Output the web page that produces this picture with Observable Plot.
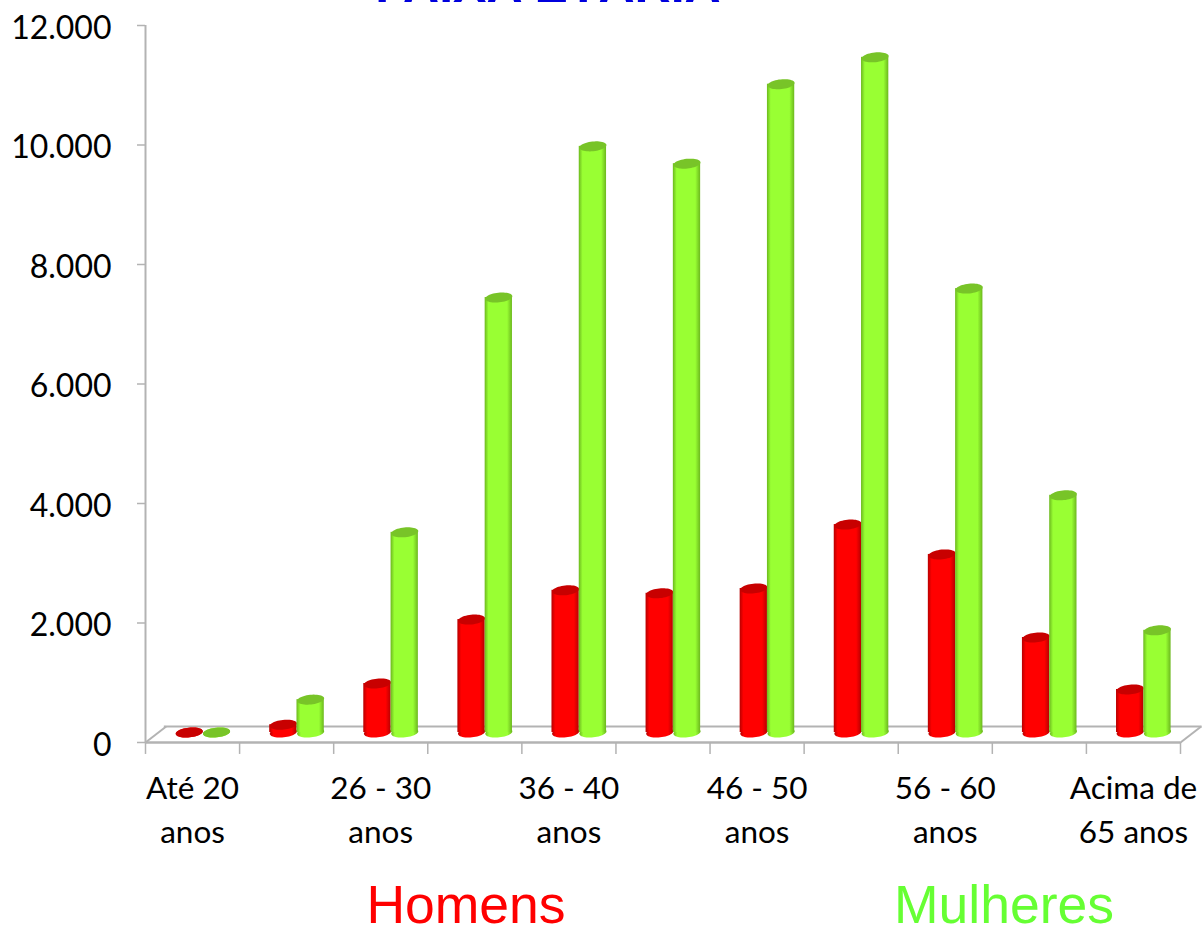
<!DOCTYPE html>
<html><head><meta charset="utf-8">
<script src="https://cdn.jsdelivr.net/npm/d3@7"></script>
<script src="https://cdn.jsdelivr.net/npm/@observablehq/plot@0.6"></script>
<style>
html,body{margin:0;padding:0;background:#fff;overflow:hidden}
#wrap{position:relative;width:1202px;height:926px;overflow:hidden}
#wrap svg{display:block;position:absolute;left:0;top:0;overflow:hidden}
.legend{position:absolute;top:884px;font:53.5px "Liberation Sans",Arial,sans-serif;transform:translateX(-50%);white-space:nowrap;line-height:42px}
.title{position:absolute;left:548px;top:-35px;transform:translateX(-50%);font:bold 50px "Liberation Sans",Arial,sans-serif;color:#0000dd;white-space:nowrap;line-height:40px}
</style></head>
<body><div id="wrap">
<div class="title">FAIXA ETÁRIA</div>
<div class="legend" style="left:466px;color:#ff0000">Homens</div>
<div class="legend" style="left:1004px;color:#66ff33">Mulheres</div>
</div>
<script>
const categories = ["Até 20\nanos","21 - 25\nanos","26 - 30\nanos","31 - 35\nanos","36 - 40\nanos","41 - 45\nanos","46 - 50\nanos","51 - 55\nanos","56 - 60\nanos","61 - 65\nanos","Acima de\n65 anos"];
const homens = [0,130,820,1890,2380,2330,2410,3480,2980,1590,720];
const mulheres = [0,550,3350,7280,9810,9520,10850,11300,7430,3970,1710];
const yTicks = [0,2000,4000,6000,8000,10000,12000];
const fmt = d => d3.format(",")(d).replace(/,/g,".");

const rows = categories.map((c,i)=>({i,c,h:homens[i],m:mulheres[i]}));
const ellipse = {draw(ctx,size){
  const rx=Math.sqrt(size/Math.PI), ry=rx/2.8, t=-6*Math.PI/180, n=48;
  for(let k=0;k<n;k++){
    const a=2*Math.PI*k/n, x=rx*Math.cos(a), y=ry*Math.sin(a);
    const px=x*Math.cos(t)-y*Math.sin(t), py=x*Math.sin(t)+y*Math.cos(t);
    k?ctx.lineTo(px,py):ctx.moveTo(px,py);
  }
  ctx.closePath();
}};
const defs = () => {
  const d = d3.create("svg:defs");
  const grad=(id,edge,mid)=>{
    const g=d.append("linearGradient").attr("id",id);
    [[0,edge],[.14,mid],[.82,mid],[1,edge]].forEach(([o,c])=>g.append("stop").attr("offset",o).attr("stop-color",c));
  };
  grad("gh","#b80000","#ff0000");
  grad("gm","#6cb81e","#99ff33");
  return d.node();
};
const W=.29, base=-10, rx=13.6;
const gray="#b3b3b3";
const chart = Plot.plot({
  width:1202,height:860,
  marginTop:0,marginBottom:0,marginLeft:0,marginRight:0,
  x:{type:"linear",domain:[0,11],range:[145,1180],axis:null},
  y:{type:"linear",domain:[0,12000],range:[742,25],axis:null},
  style:{background:"transparent"},
  marks:[
    defs,
    // wall, ticks and floor
    Plot.ruleX([0],{y1:0,y2:12000,stroke:gray,strokeWidth:2}),
    Plot.ruleY(yTicks,{x1:-.085,x2:0,stroke:gray,strokeWidth:1.5}),
    Plot.ruleY([0],{x1:0,x2:11,stroke:gray,strokeWidth:2.5}),
    Plot.ruleY([0],{x1:.2,x2:11.23,stroke:gray,strokeWidth:2,dy:-16}),
    Plot.link([0,11],{x1:d=>d,y1:0,x2:d=>d+.22,y2:268,stroke:gray,strokeWidth:2}),
    Plot.ruleX(d3.range(12),{y1:0,y2:-200,stroke:gray,strokeWidth:1.5}),
    // columns
    ...rows.flatMap(d=>{
      const one=[d];
      return [
        Plot.dot(one,{x:d.i+.32+W/2,y:0,r:rx,symbol:ellipse,fill:"url(#gh)",dy:base}),
        Plot.rectY(one,{x1:d.i+.32,x2:d.i+.32+W,y1:0,y2:d.h,fill:"url(#gh)",dy:base}),
        Plot.dot(one,{x:d.i+.32+W/2,y:d.h,r:rx,symbol:ellipse,fill:"#c80000",dy:base}),
        Plot.dot(one,{x:d.i+.61+W/2,y:0,r:rx,symbol:ellipse,fill:"url(#gm)",dy:base}),
        Plot.rectY(one,{x1:d.i+.61,x2:d.i+.61+W,y1:0,y2:d.m,fill:"url(#gm)",dy:base}),
        Plot.dot(one,{x:d.i+.61+W/2,y:d.m,r:rx,symbol:ellipse,fill:"#78c428",dy:base})
      ];
    }),
    // y tick labels
    Plot.text(yTicks,{x:0,y:d=>d,text:fmt,textAnchor:"end",dx:-34,dy:3,fontSize:32,fontFamily:"Lato",fill:"#000"}),
    // category labels, every second one
    Plot.text(rows.filter(d=>d.i%2===0),{x:d=>d.i+.5,y:0,text:"c",dy:25,lineHeight:1.4,lineAnchor:"top",fontSize:31.5,fontFamily:"Lato",fill:"#000"})
  ]
});
document.getElementById("wrap").prepend(chart);
</script>
</body></html>
